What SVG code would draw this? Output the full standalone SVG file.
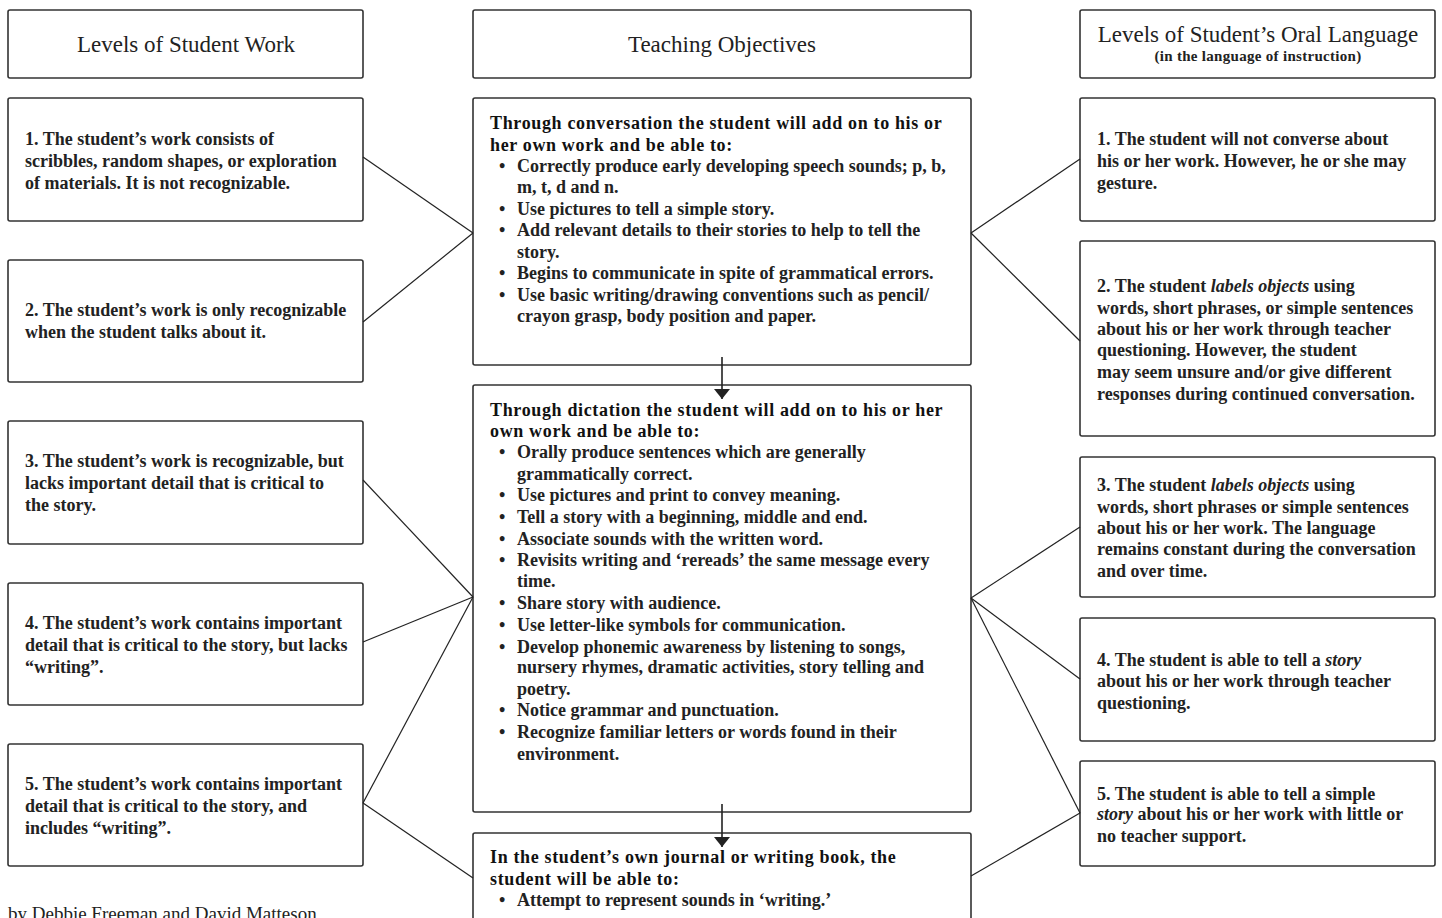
<svg xmlns="http://www.w3.org/2000/svg" width="1442" height="918" viewBox="0 0 1442 918">
<style>
.box{fill:#fff;stroke:#333;stroke-width:1.6}
.hd{font-family:"Liberation Serif",serif;font-size:23px;fill:#222;text-anchor:middle}
.sub{font-family:"Liberation Serif",serif;font-size:15px;font-weight:bold;fill:#222;text-anchor:middle;letter-spacing:0.3px}
.t{font-family:"Liberation Serif",serif;font-size:18px;font-weight:bold;fill:#222}
.h{font-family:"Liberation Serif",serif;font-size:18px;font-weight:bold;fill:#111;letter-spacing:0.65px}
.b{font-family:"Liberation Serif",serif;font-size:18px;font-weight:bold;fill:#222}
.i{font-style:italic}
.ft{font-family:"Liberation Serif",serif;font-size:19px;fill:#222}
.con{stroke:#222;stroke-width:1.2;fill:none}
.arr{stroke:#222;stroke-width:1.6;fill:none}
</style>
<defs>
<marker id="ah" viewBox="0 0 10 16" markerWidth="10" markerHeight="16" refX="10" refY="8" orient="auto" markerUnits="userSpaceOnUse">
<path d="M0,0 L10,8 L0,16 Z" fill="#222"/>
</marker>
</defs>

<g id="hdr-left">
<rect class="box" x="8" y="10" width="355" height="68" rx="2"/>
<text class="hd" x="186" y="52">Levels of Student Work</text>
</g>
<g id="hdr-mid">
<rect class="box" x="473" y="10" width="498" height="68" rx="2"/>
<text class="hd" x="722" y="52">Teaching Objectives</text>
</g>
<g id="hdr-right">
<rect class="box" x="1080" y="10" width="355" height="68" rx="2"/>
<text class="hd" x="1258" y="42">Levels of Student’s Oral Language</text>
<text class="sub" x="1258" y="61">(in the language of instruction)</text>
</g>

<g id="L1">
<rect class="box" x="8" y="98" width="355" height="123" rx="2"/>
<text class="t" x="25" y="145">1.  The student’s work consists of</text>
<text class="t" x="25" y="167">scribbles, random shapes, or exploration</text>
<text class="t" x="25" y="189">of materials.  It is not recognizable.</text>
</g>
<g id="L2">
<rect class="box" x="8" y="260" width="355" height="122" rx="2"/>
<text class="t" x="25" y="316">2.  The student’s work is only recognizable</text>
<text class="t" x="25" y="338">when the student talks about it.</text>
</g>
<g id="L3">
<rect class="box" x="8" y="421" width="355" height="123" rx="2"/>
<text class="t" x="25" y="467">3.  The student’s work is recognizable, but</text>
<text class="t" x="25" y="489">lacks important detail that is critical to</text>
<text class="t" x="25" y="511">the story.</text>
</g>
<g id="L4">
<rect class="box" x="8" y="583" width="355" height="122" rx="2"/>
<text class="t" x="25" y="629">4.  The student’s work contains important</text>
<text class="t" x="25" y="651">detail that is critical to the story, but lacks</text>
<text class="t" x="25" y="673">“writing”.</text>
</g>
<g id="L5">
<rect class="box" x="8" y="744" width="355" height="122" rx="2"/>
<text class="t" x="25" y="790">5.  The student’s work contains important</text>
<text class="t" x="25" y="812">detail that is critical to the story, and</text>
<text class="t" x="25" y="834">includes “writing”.</text>
</g>

<g id="M1">
<rect class="box" x="473" y="98" width="498" height="267" rx="2"/>
<text class="h" x="490" y="129">Through conversation the student will add on to his or</text>
<text class="h" x="490" y="151">her own work and be able to:</text>
<text class="b" x="499" y="172">•</text><text class="b" x="517" y="172">Correctly produce early developing speech sounds; p, b,</text>
<text class="b" x="517" y="193">m, t, d and n.</text>
<text class="b" x="499" y="215">•</text><text class="b" x="517" y="215">Use pictures to tell a simple story.</text>
<text class="b" x="499" y="236">•</text><text class="b" x="517" y="236">Add relevant details to their stories to help to tell the</text>
<text class="b" x="517" y="258">story.</text>
<text class="b" x="499" y="279">•</text><text class="b" x="517" y="279">Begins to communicate in spite of grammatical errors.</text>
<text class="b" x="499" y="301">•</text><text class="b" x="517" y="301">Use basic writing/drawing conventions such as pencil/</text>
<text class="b" x="517" y="322">crayon grasp, body position and paper.</text>
</g>

<g id="M2">
<rect class="box" x="473" y="385" width="498" height="427" rx="2"/>
<text class="h" x="490" y="416">Through dictation the student will add on to his or her</text>
<text class="h" x="490" y="437">own work and be able to:</text>
<text class="b" x="499" y="458">•</text><text class="b" x="517" y="458">Orally produce sentences which are generally</text>
<text class="b" x="517" y="480">grammatically correct.</text>
<text class="b" x="499" y="501">•</text><text class="b" x="517" y="501">Use pictures and print to convey meaning.</text>
<text class="b" x="499" y="523">•</text><text class="b" x="517" y="523">Tell a story with a beginning, middle and end.</text>
<text class="b" x="499" y="545">•</text><text class="b" x="517" y="545">Associate sounds with the written word.</text>
<text class="b" x="499" y="566">•</text><text class="b" x="517" y="566">Revisits writing and ‘rereads’ the same message every</text>
<text class="b" x="517" y="587">time.</text>
<text class="b" x="499" y="609">•</text><text class="b" x="517" y="609">Share story with audience.</text>
<text class="b" x="499" y="631">•</text><text class="b" x="517" y="631">Use letter-like symbols for communication.</text>
<text class="b" x="499" y="653">•</text><text class="b" x="517" y="653">Develop phonemic awareness by listening to songs,</text>
<text class="b" x="517" y="673">nursery rhymes, dramatic activities, story telling and</text>
<text class="b" x="517" y="695">poetry.</text>
<text class="b" x="499" y="716">•</text><text class="b" x="517" y="716">Notice grammar and punctuation.</text>
<text class="b" x="499" y="738">•</text><text class="b" x="517" y="738">Recognize familiar letters or words found in their</text>
<text class="b" x="517" y="760">environment.</text>
</g>

<g id="M3">
<rect class="box" x="473" y="833" width="498" height="100" rx="2"/>
<text class="h" x="490" y="863">In the student’s own journal or writing book, the</text>
<text class="h" x="490" y="885">student will be able to:</text>
<text class="b" x="499" y="906">•</text><text class="b" x="517" y="906">Attempt to represent sounds in ‘writing.’</text>
</g>

<g id="R1">
<rect class="box" x="1080" y="98" width="355" height="123" rx="2"/>
<text class="t" x="1097" y="145">1.  The student will not converse about</text>
<text class="t" x="1097" y="167">his or her work. However, he or she may</text>
<text class="t" x="1097" y="189">gesture.</text>
</g>
<g id="R2">
<rect class="box" x="1080" y="241" width="355" height="195" rx="2"/>
<text class="t" x="1097" y="292">2.  The student <tspan class="i">labels objects</tspan> using</text>
<text class="t" x="1097" y="314">words, short phrases, or simple sentences</text>
<text class="t" x="1097" y="335">about his or her work through teacher</text>
<text class="t" x="1097" y="356">questioning.  However, the student</text>
<text class="t" x="1097" y="378">may seem unsure and/or give different</text>
<text class="t" x="1097" y="400">responses during continued conversation.</text>
</g>
<g id="R3">
<rect class="box" x="1080" y="457" width="355" height="140" rx="2"/>
<text class="t" x="1097" y="491">3.  The student <tspan class="i">labels objects</tspan> using</text>
<text class="t" x="1097" y="513">words, short phrases or simple sentences</text>
<text class="t" x="1097" y="534">about his or her work. The language</text>
<text class="t" x="1097" y="555">remains constant during the conversation</text>
<text class="t" x="1097" y="577">and over time.</text>
</g>
<g id="R4">
<rect class="box" x="1080" y="618" width="355" height="123" rx="2"/>
<text class="t" x="1097" y="666">4.  The student is able to tell a <tspan class="i">story</tspan></text>
<text class="t" x="1097" y="687">about his or her work through teacher</text>
<text class="t" x="1097" y="709">questioning.</text>
</g>
<g id="R5">
<rect class="box" x="1080" y="761" width="355" height="105" rx="2"/>
<text class="t" x="1097" y="800">5.  The student is able to tell a simple</text>
<text class="t" x="1097" y="820"><tspan class="i">story</tspan> about his or her work with little or</text>
<text class="t" x="1097" y="842">no teacher support.</text>
</g>

<g id="footer">
<text class="ft" x="8" y="920">by Debbie Freeman and David Matteson</text>
</g>

<g id="connectors">
<line class="con" x1="363" y1="157" x2="473" y2="233"/>
<line class="con" x1="363" y1="322" x2="473" y2="233"/>
<line class="con" x1="363" y1="480" x2="473" y2="597"/>
<line class="con" x1="363" y1="642" x2="473" y2="597"/>
<line class="con" x1="363" y1="803" x2="473" y2="597"/>
<line class="con" x1="363" y1="803" x2="473" y2="878"/>
<line class="con" x1="971" y1="233" x2="1080" y2="159"/>
<line class="con" x1="971" y1="233" x2="1080" y2="341"/>
<line class="con" x1="971" y1="598" x2="1080" y2="527"/>
<line class="con" x1="971" y1="598" x2="1080" y2="679"/>
<line class="con" x1="971" y1="598" x2="1080" y2="813"/>
<line class="con" x1="971" y1="876" x2="1080" y2="813"/>
<line class="arr" x1="722" y1="357" x2="722" y2="399" marker-end="url(#ah)"/>
<line class="arr" x1="722" y1="804" x2="722" y2="847" marker-end="url(#ah)"/>
</g>
</svg>
